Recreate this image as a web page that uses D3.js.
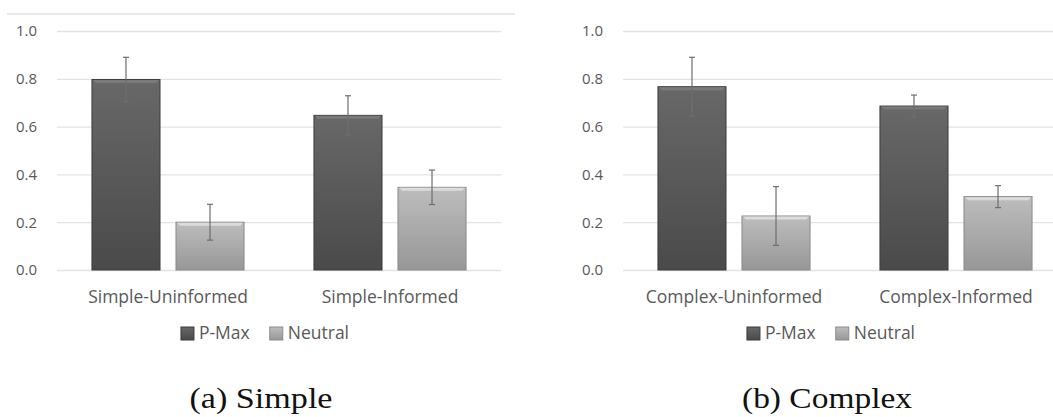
<!DOCTYPE html>
<html><head><meta charset="utf-8">
<script src="https://cdn.jsdelivr.net/npm/d3@7"></script>
<style>html,body{margin:0;padding:0;background:#fff;overflow:hidden}</style>
</head><body>
<svg id="chart" width="1053" height="417"></svg>
<script>
// ---- data ----
const seriesNames = ["P-Max", "Neutral"];
const categoriesA = ["Simple-Uninformed", "Simple-Informed"];
const pmaxA = [0.797, 0.647];
const pmaxErrA = [0.093, 0.082];
const neutralA = [0.200, 0.346];
const neutralErrA = [0.075, 0.072];
const categoriesB = ["Complex-Uninformed", "Complex-Informed"];
const pmaxB = [0.767, 0.686];
const pmaxErrB = [0.123, 0.046];
const neutralB = [0.226, 0.307];
const neutralErrB = [0.123, 0.046];
const yTicks = [0, 0.2, 0.4, 0.6, 0.8, 1.0];
const captions = ["(a) Simple", "(b) Complex"];

const svg = d3.select("#chart");
const defs = svg.append("defs");
function grad(id, c1, c2) {
  const g = defs.append("linearGradient").attr("id", id).attr("x1", 0).attr("y1", 0).attr("x2", 0).attr("y2", 1);
  g.append("stop").attr("offset", "0%").attr("stop-color", c1);
  g.append("stop").attr("offset", "100%").attr("stop-color", c2);
}
grad("gDark", "#686868", "#4a4a4a");
grad("gLight", "#bdbdbd", "#979797");
const fills = {"P-Max": "url(#gDark)", "Neutral": "url(#gLight)"};
const strokes = {"P-Max": "#3c3c3c", "Neutral": "#8a8a8a"};
const hilite = {"P-Max": "#7a7a7a", "Neutral": "#dcdcdc"};
const swatch = {"P-Max": "#555", "Neutral": "#aaa"};

const sans = "'Open Sans', sans-serif";
const txtColor = "#595959";

const panels = [
  {left: 7, cats: categoriesA, vals: {"P-Max": pmaxA, "Neutral": neutralA}, errs: {"P-Max": pmaxErrA, "Neutral": neutralErrA}, caption: captions[0], capW: 143, topLine: true},
  {left: 573, cats: categoriesB, vals: {"P-Max": pmaxB, "Neutral": neutralB}, errs: {"P-Max": pmaxErrB, "Neutral": neutralErrB}, caption: captions[1], capW: 170, topLine: false}
];

const chartW = 508, plotOff = 50, plotW = 444;
const y = d3.scaleLinear().domain([0, 1]).range([270, 31]);

panels.forEach(p => {
  const g = svg.append("g");
  const px = p.left + plotOff;
  if (p.topLine) {
    g.append("line").attr("x1", p.left).attr("x2", p.left + chartW).attr("y1", 14).attr("y2", 14)
      .attr("stroke", "#d4d4d4").attr("stroke-width", 1.2);
  }
  const x0 = d3.scaleBand().domain(p.cats).range([px, px + plotW]).padding(0);
  const x1 = d3.scaleBand().domain(seriesNames).range([0, x0.bandwidth()]).paddingInner(0.19).paddingOuter(0.416);

  // grid
  const grid = g.append("g").attr("transform", `translate(${px},0)`)
    .call(d3.axisLeft(y).tickValues(yTicks).tickSize(-plotW).tickFormat(""));
  grid.select(".domain").remove();
  grid.selectAll("line").attr("stroke", "#e3e3e3").attr("stroke-width", 1.3);

  // tick labels
  const ax = g.append("g").attr("transform", `translate(${px - 20},0)`)
    .call(d3.axisLeft(y).tickValues(yTicks).tickSize(0).tickPadding(0).tickFormat(d3.format(".1f")));
  ax.select(".domain").remove();
  ax.selectAll("text").attr("font-family", sans).attr("font-size", 15).attr("fill", txtColor);

  // bars
  p.cats.forEach((c, i) => {
    seriesNames.forEach(s => {
      const v = p.vals[s][i], e = p.errs[s][i];
      const bx = x0(c) + x1(s), bw = x1.bandwidth();
      const by = y(v), bh = y(0) - y(v);
      g.append("rect").attr("x", bx).attr("y", by).attr("width", bw).attr("height", bh)
        .attr("fill", fills[s]).attr("stroke", strokes[s]).attr("stroke-width", 1);
      // bevel highlight on top
      g.append("path").attr("d", `M${bx+1},${by+0.5} L${bx+bw-1},${by+0.5} L${bx+bw-4},${by+3.5} L${bx+4},${by+3.5} Z`)
        .attr("fill", hilite[s]);
      // error bar
      const cx = bx + bw / 2;
      const eb = g.append("g").attr("stroke", "#6e6e6e").attr("stroke-width", 1.2);
      eb.append("line").attr("x1", cx).attr("x2", cx).attr("y1", y(v + e)).attr("y2", y(v - e));
      eb.append("line").attr("x1", cx - 3).attr("x2", cx + 3).attr("y1", y(v + e)).attr("y2", y(v + e));
      eb.append("line").attr("x1", cx - 3).attr("x2", cx + 3).attr("y1", y(v - e)).attr("y2", y(v - e));
    });
    g.append("text").attr("x", x0(c) + x0.bandwidth() / 2).attr("y", 303)
      .attr("text-anchor", "middle").attr("font-family", sans).attr("font-size", 17.5)
      .attr("fill", txtColor).text(c);
  });

  // legend
  const lg = g.append("g");
  let cur = 0;
  seriesNames.forEach((s, k) => {
    const it = lg.append("g").attr("transform", `translate(${cur},0)`);
    it.append("rect").attr("x", 0).attr("y", 327).attr("width", 13).attr("height", 13)
      .attr("fill", fills[s]).attr("stroke", strokes[s]).attr("stroke-width", 1);
    const t = it.append("text").attr("x", 18).attr("y", 339).attr("font-family", sans)
      .attr("font-size", 17.5).attr("fill", txtColor).text(s);
    const w = t.node().getComputedTextLength();
    cur += 18 + w + (k < seriesNames.length - 1 ? 20 : 0);
  });
  const center = p.left + chartW / 2 + 4;
  lg.attr("transform", `translate(${center - cur / 2},0)`);

  // caption
  svg.append("text").attr("x", p.left + chartW / 2).attr("y", 408).attr("text-anchor", "middle")
    .attr("font-family", "'Liberation Serif', serif").attr("font-size", 29).attr("fill", "#111")
    .attr("textLength", p.capW).attr("lengthAdjust", "spacingAndGlyphs").text(p.caption);
});
</script>
</body></html>
